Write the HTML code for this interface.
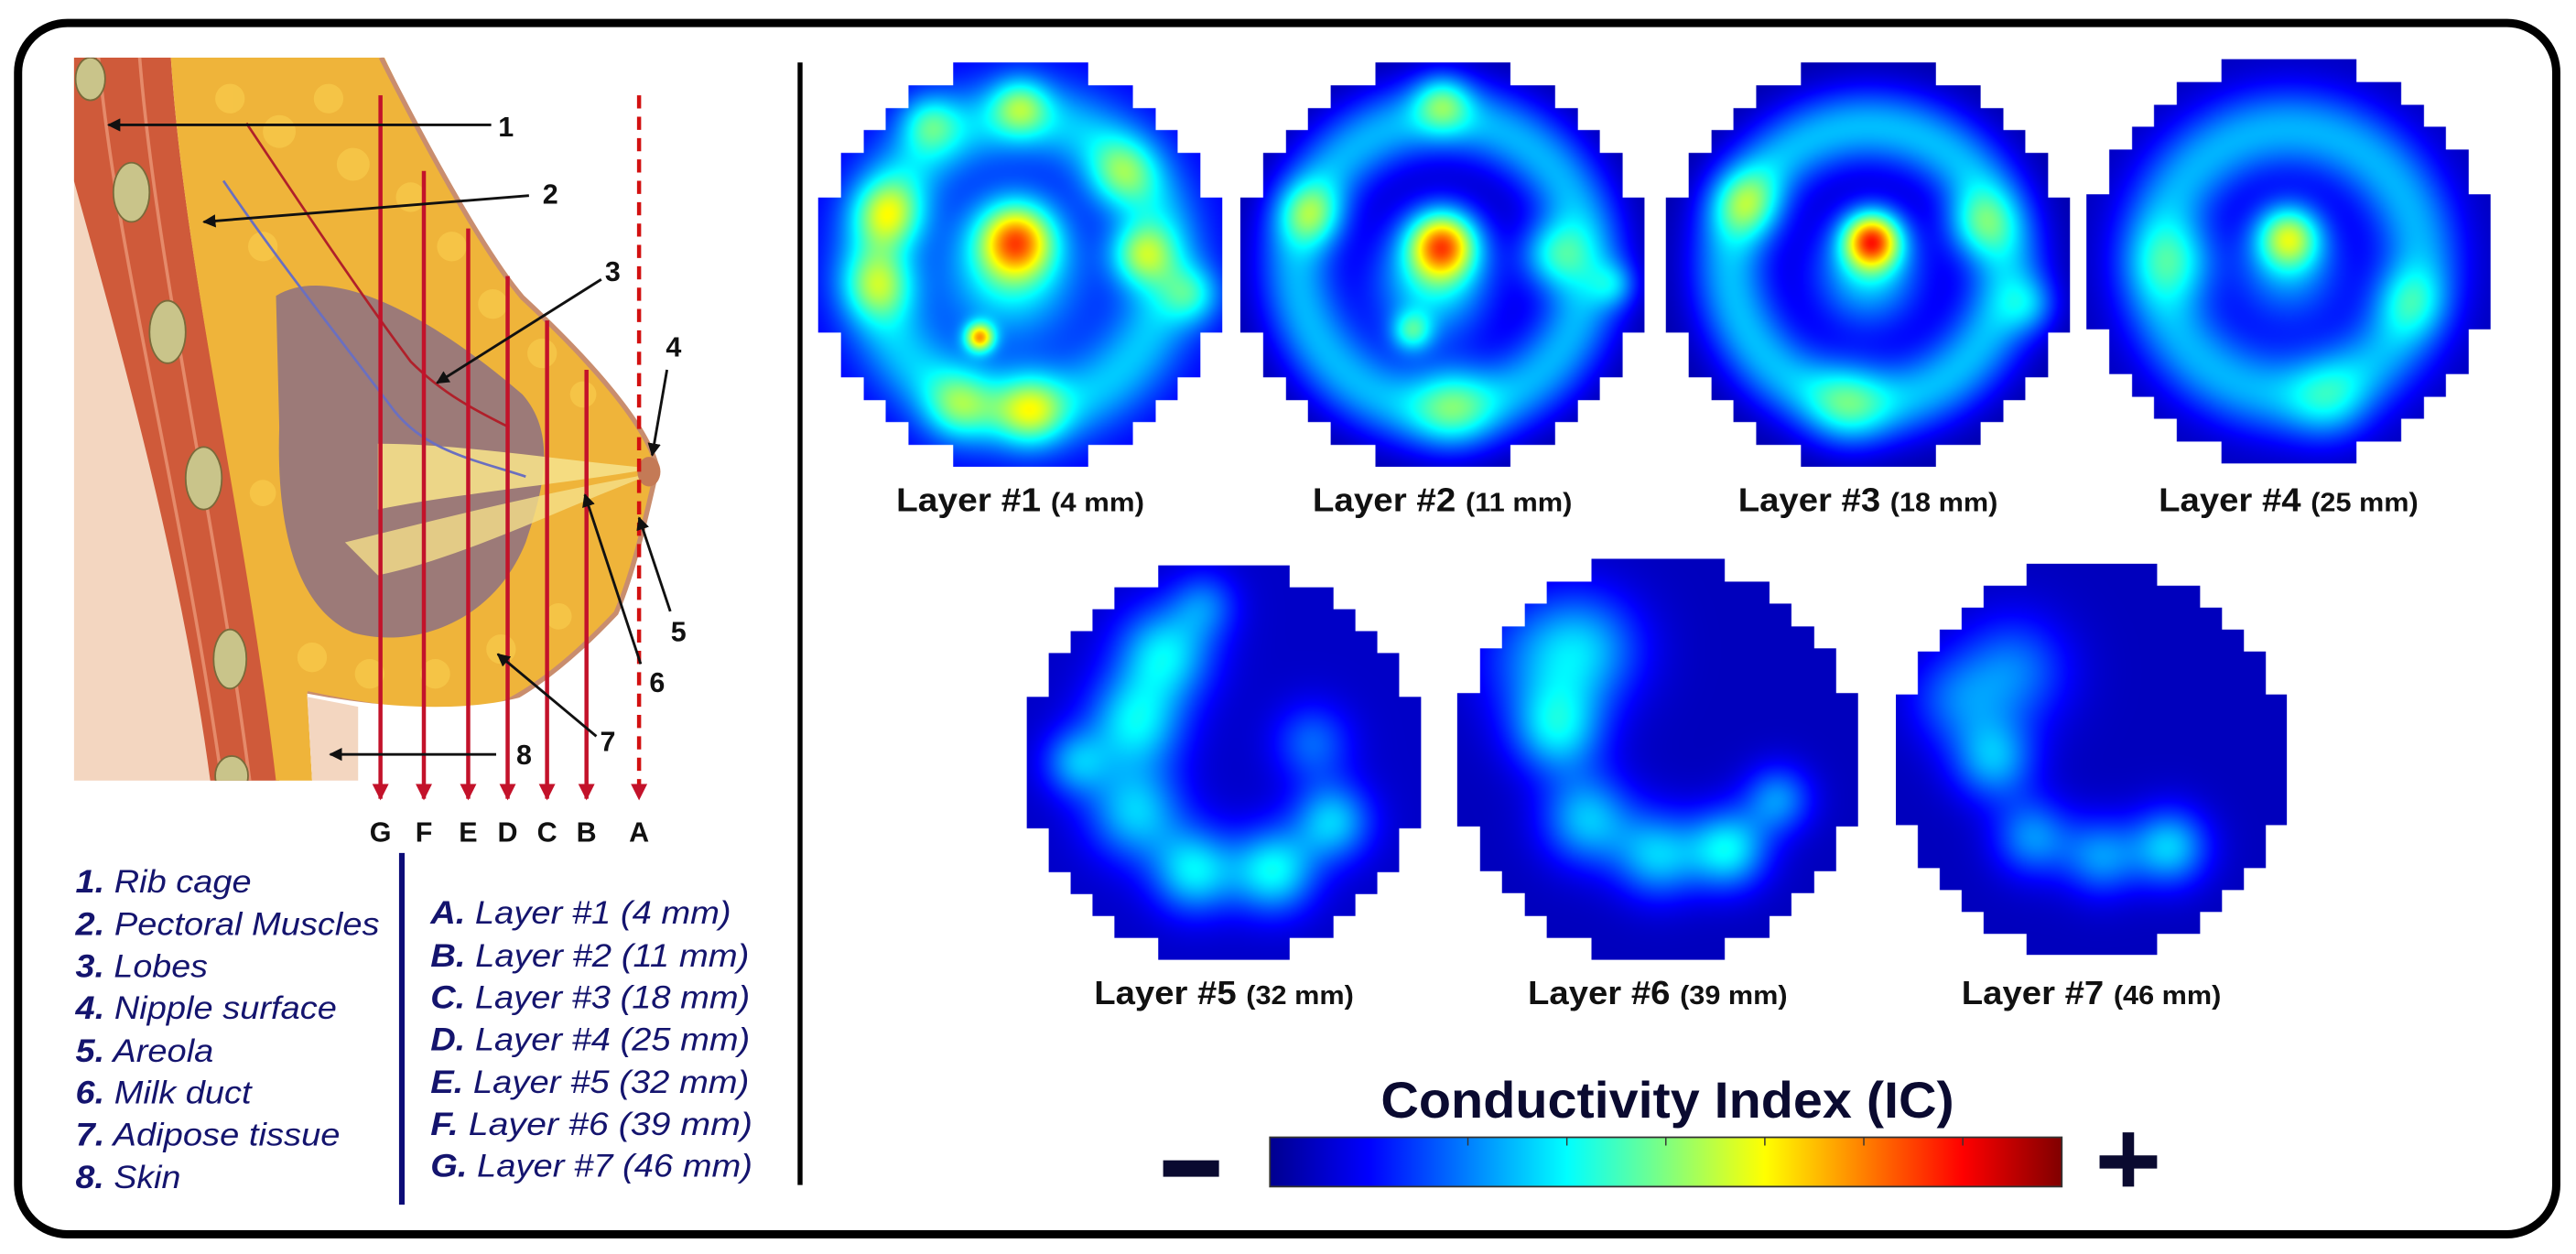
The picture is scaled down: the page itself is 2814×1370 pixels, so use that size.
<!DOCTYPE html>
<html><head><meta charset="utf-8">
<style>
html,body{margin:0;padding:0;background:#fff;}
#root{position:relative;width:1568px;height:763px;transform:scale(1.79464,1.79554);transform-origin:0 0;overflow:hidden;background:#fff;}
#root svg{position:absolute;left:0;top:0;}
canvas.hm{position:absolute;}
</style></head>
<body>
<div id="root">
<svg width="1568" height="763" viewBox="0 0 1568 763" font-family="'Liberation Sans Narrow','Liberation Sans',sans-serif">
  <defs>
    <linearGradient id="jet" x1="0" x2="1" y1="0" y2="0">
      <stop offset="0" stop-color="#00008f"/>
      <stop offset="0.125" stop-color="#0000ff"/>
      <stop offset="0.375" stop-color="#00ffff"/>
      <stop offset="0.625" stop-color="#ffff00"/>
      <stop offset="0.875" stop-color="#ff0000"/>
      <stop offset="1" stop-color="#800000"/>
    </linearGradient>
    <marker id="ah" viewBox="0 0 10 10" refX="9" refY="5" markerWidth="5" markerHeight="5" orient="auto"><path d="M0,0 L10,5 L0,10 z" fill="#111"/></marker>
    <marker id="rh" viewBox="0 0 10 10" refX="9" refY="5" markerWidth="4" markerHeight="4" orient="auto"><path d="M0,0 L10,5 L0,10 z" fill="#c3122a"/></marker>
    <clipPath id="anclip"><rect x="45" y="35" width="425" height="440"/></clipPath>
  </defs>
  <rect x="11" y="14" width="1545" height="737" rx="30" fill="none" stroke="#000" stroke-width="5"/>

  <g clip-path="url(#anclip)">
    <rect x="45" y="35" width="425" height="440" fill="#fff"/>
    <path d="M45,35 L104,35 C110,150 140,300 167,475 L45,475 Z" fill="#f3d6c0"/>
    <path d="M45,35 L104,35 C112,160 150,320 170,475 L128,475 C110,340 70,200 45,110 Z" fill="#cf5a3a"/>
    <path d="M60,35 C70,150 110,300 135,475" stroke="#e58a6a" stroke-width="2" fill="none"/>
    <path d="M85,35 C95,160 132,320 152,475" stroke="#e58a6a" stroke-width="2" fill="none"/>
    <path d="M104,35 L234,35 C270,110 300,160 318,181 C360,220 395,260 400,285 C392,320 385,350 375,373 C340,410 310,430 289,434 C250,434 215,428 187,422 L190,475 L168,475 C150,320 112,160 104,35 Z" fill="#efb43a"/>
    <g fill="#f7c84a" opacity="0.8">
      <circle cx="140" cy="60" r="9"/><circle cx="170" cy="80" r="10"/><circle cx="200" cy="60" r="9"/><circle cx="215" cy="100" r="10"/>
      <circle cx="250" cy="120" r="9"/><circle cx="275" cy="150" r="9"/><circle cx="300" cy="185" r="9"/><circle cx="330" cy="215" r="9"/>
      <circle cx="355" cy="240" r="8"/><circle cx="190" cy="400" r="9"/><circle cx="225" cy="410" r="9"/><circle cx="265" cy="410" r="9"/>
      <circle cx="305" cy="395" r="9"/><circle cx="340" cy="375" r="8"/><circle cx="160" cy="150" r="9"/><circle cx="160" cy="300" r="8"/>
    </g>
    <path d="M232,35 C270,110 300,160 318,181 C360,220 395,260 400,285 C392,320 385,350 375,373 C340,410 310,430 289,434 C250,434 215,428 187,422" fill="none" stroke="#c98d6e" stroke-width="3"/>
    <path d="M187,422 C250,434 300,432 330,420 L330,475 L190,475 Z" fill="#fff"/>
    <path d="M187,424 L218,430 L218,475 L190,475 Z" fill="#f3d6c0"/>
    <path d="M168,180 C200,160 260,190 318,240 C340,265 330,300 320,330 C300,380 250,395 215,385 C180,370 168,320 170,260 Z" fill="#9c7a78"/>
    <path d="M230,270 C280,270 340,280 398,285 C340,295 280,300 230,310 Z" fill="#f5e08a" opacity="0.9"/>
    <path d="M210,330 C270,315 330,300 398,288 C340,310 280,340 230,350 Z" fill="#f5e08a" opacity="0.8"/>
    <path d="M136,110 C170,160 210,210 240,250 C260,275 290,280 320,290" fill="none" stroke="#6a6fc0" stroke-width="1.5"/>
    <path d="M150,75 C180,120 220,180 250,220 C270,240 290,250 310,260" fill="none" stroke="#b0202a" stroke-width="1.5"/>
    <ellipse cx="395" cy="287" rx="7" ry="9" fill="#c47a56"/>
    <g fill="#c9c48a" stroke="#7a6a3a" stroke-width="1">
      <ellipse cx="55" cy="48" rx="9" ry="13"/>
      <ellipse cx="80" cy="117" rx="11" ry="18"/>
      <ellipse cx="102" cy="202" rx="11" ry="19"/>
      <ellipse cx="124" cy="291" rx="11" ry="19"/>
      <ellipse cx="140" cy="401" rx="10" ry="18"/>
      <ellipse cx="141" cy="472" rx="10" ry="12"/>
    </g>
  </g>

  <g stroke="#c3122a" stroke-width="2.5" fill="none">
    <line x1="231.6" y1="58" x2="231.6" y2="486" marker-end="url(#rh)"/>
    <line x1="258" y1="104" x2="258" y2="486" marker-end="url(#rh)"/>
    <line x1="285" y1="139" x2="285" y2="486" marker-end="url(#rh)"/>
    <line x1="309" y1="168" x2="309" y2="486" marker-end="url(#rh)"/>
    <line x1="333" y1="195" x2="333" y2="486" marker-end="url(#rh)"/>
    <line x1="357" y1="225" x2="357" y2="486" marker-end="url(#rh)"/>
    <line x1="389" y1="58" x2="389" y2="486" stroke-dasharray="8,5" stroke="#d21010" marker-end="url(#rh)"/>
  </g>
  <g font-family="'Liberation Sans',sans-serif" font-weight="bold" font-size="17" fill="#111" text-anchor="middle">
    <text x="231.6" y="512">G</text><text x="258" y="512">F</text><text x="285" y="512">E</text><text x="309" y="512">D</text><text x="333" y="512">C</text><text x="357" y="512">B</text><text x="389" y="512">A</text>
  </g>

  <g stroke="#111" stroke-width="1.6" fill="none">
    <line x1="299" y1="76" x2="66" y2="76" marker-end="url(#ah)"/>
    <line x1="322" y1="119" x2="124" y2="135" marker-end="url(#ah)"/>
    <line x1="366" y1="170" x2="266" y2="233" marker-end="url(#ah)"/>
    <line x1="406" y1="225" x2="397" y2="277" marker-end="url(#ah)"/>
    <line x1="408" y1="372" x2="389" y2="315" marker-end="url(#ah)"/>
    <line x1="390" y1="404" x2="356" y2="301" marker-end="url(#ah)"/>
    <line x1="363" y1="448" x2="303" y2="398" marker-end="url(#ah)"/>
    <line x1="302" y1="459" x2="201" y2="459" marker-end="url(#ah)"/>
  </g>
  <g font-family="'Liberation Sans',sans-serif" font-weight="bold" font-size="17" fill="#111" text-anchor="middle">
    <text x="308" y="83">1</text><text x="335" y="124">2</text><text x="373" y="171">3</text><text x="410" y="217">4</text>
    <text x="413" y="390">5</text><text x="400" y="421">6</text><text x="370" y="457">7</text><text x="319" y="465">8</text>
  </g>

  <g font-size="19.5" font-style="italic" fill="#14146e">
    <text x="46" y="543" textLength="107" lengthAdjust="spacingAndGlyphs"><tspan font-weight="bold">1.</tspan> Rib cage</text>
    <text x="46" y="569" textLength="185" lengthAdjust="spacingAndGlyphs"><tspan font-weight="bold">2.</tspan> Pectoral Muscles</text>
    <text x="46" y="594.5" textLength="80.5" lengthAdjust="spacingAndGlyphs"><tspan font-weight="bold">3.</tspan> Lobes</text>
    <text x="46" y="620" textLength="159" lengthAdjust="spacingAndGlyphs"><tspan font-weight="bold">4.</tspan> Nipple surface</text>
    <text x="46" y="646" textLength="84" lengthAdjust="spacingAndGlyphs"><tspan font-weight="bold">5.</tspan> Areola</text>
    <text x="46" y="671.5" textLength="107" lengthAdjust="spacingAndGlyphs"><tspan font-weight="bold">6.</tspan> Milk duct</text>
    <text x="46" y="697" textLength="161" lengthAdjust="spacingAndGlyphs"><tspan font-weight="bold">7.</tspan> Adipose tissue</text>
    <text x="46" y="723" textLength="64" lengthAdjust="spacingAndGlyphs"><tspan font-weight="bold">8.</tspan> Skin</text>
  </g>
  <line x1="244.6" y1="519" x2="244.6" y2="733" stroke="#0c0c78" stroke-width="3.4"/>
  <g font-size="19.5" font-style="italic" fill="#14146e">
    <text x="262" y="562" textLength="183" lengthAdjust="spacingAndGlyphs"><tspan font-weight="bold">A.</tspan> Layer #1 (4 mm)</text>
    <text x="262" y="588" textLength="194" lengthAdjust="spacingAndGlyphs"><tspan font-weight="bold">B.</tspan> Layer #2 (11 mm)</text>
    <text x="262" y="613.5" textLength="194.5" lengthAdjust="spacingAndGlyphs"><tspan font-weight="bold">C.</tspan> Layer #3 (18 mm)</text>
    <text x="262" y="639" textLength="194.5" lengthAdjust="spacingAndGlyphs"><tspan font-weight="bold">D.</tspan> Layer #4 (25 mm)</text>
    <text x="262" y="665" textLength="194" lengthAdjust="spacingAndGlyphs"><tspan font-weight="bold">E.</tspan> Layer #5 (32 mm)</text>
    <text x="262" y="690.5" textLength="196" lengthAdjust="spacingAndGlyphs"><tspan font-weight="bold">F.</tspan>  Layer #6 (39 mm)</text>
    <text x="262" y="716" textLength="196" lengthAdjust="spacingAndGlyphs"><tspan font-weight="bold">G.</tspan> Layer #7 (46 mm)</text>
  </g>

  <line x1="487" y1="38" x2="487" y2="721" stroke="#000" stroke-width="3"/>

  <g id="hmLabels" font-weight="bold" fill="#111" text-anchor="middle"></g>

  <text x="1015" y="680" font-size="31" font-weight="bold" fill="#0a0a30" text-anchor="middle" textLength="349" lengthAdjust="spacingAndGlyphs">Conductivity Index (IC)</text>
  <rect x="773" y="692" width="482" height="30" fill="url(#jet)" stroke="#333" stroke-width="1"/>
  <g id="cbTicks" stroke="#333" stroke-width="0.8"></g>
  <rect x="708" y="706" width="34" height="10" fill="#0a0a30"/>
  <rect x="1278" y="703" width="35" height="8" fill="#0a0a30"/>
  <rect x="1292" y="689" width="7" height="33" fill="#0a0a30"/>
</svg>
</div>
<script>
const layerNames = ["Layer #1", "Layer #2", "Layer #3", "Layer #4", "Layer #5", "Layer #6", "Layer #7"];
const layerDepths = ["(4 mm)", "(11 mm)", "(18 mm)", "(25 mm)", "(32 mm)", "(39 mm)", "(46 mm)"];
const layerBase = [0.12, 0.04, 0.04, 0.06, 0.07, 0.06, 0.06];
const layerRing = [[0.72, 0.14, 0.2], [0.72, 0.14, 0.26], [0.68, 0.14, 0.27], [0.65, 0.15, 0.24], [0, 0.1, 0], [0, 0.1, 0], [0, 0.1, 0]];
const layerBlobs = [
  [[-0.02,-0.12,0.13,0.5],[-0.05,0.05,0.24,0.25],[-0.2,0.36,0.05,0.5],[-0.65,-0.25,0.12,0.3],[-0.7,0.1,0.12,0.25],[0.6,-0.05,0.11,0.3],[0.5,-0.45,0.12,0.22],[0.05,0.72,0.12,0.3],[-0.3,0.7,0.12,0.22],[0.0,-0.78,0.1,0.25],[-0.45,-0.7,0.1,0.2],[0.85,0.15,0.1,0.2]],
  [[0,-0.1,0.12,0.58],[-0.05,0.1,0.22,0.3],[-0.15,0.33,0.07,0.25],[-0.65,-0.25,0.11,0.25],[0.55,-0.05,0.12,0.25],[0.05,0.7,0.14,0.2],[0.0,-0.8,0.1,0.25],[0.85,0.1,0.08,0.15]],
  [[0.02,-0.12,0.1,0.62],[0,0.05,0.2,0.28],[-0.6,-0.3,0.12,0.25],[0.55,-0.2,0.12,0.22],[-0.1,0.7,0.14,0.18],[0.8,0.2,0.1,0.15]],
  [[0.0,-0.12,0.11,0.4],[0,0.05,0.2,0.2],[-0.55,0.0,0.14,0.18],[0.2,0.7,0.14,0.14],[0.6,0.2,0.12,0.14]],
  [[-0.3,-0.55,0.17,0.28],[-0.45,-0.2,0.17,0.28],[-0.45,0.25,0.17,0.25],[-0.15,0.55,0.15,0.28],[0.25,0.55,0.15,0.3],[0.55,0.3,0.14,0.25],[-0.75,0.0,0.12,0.2],[0.45,-0.1,0.14,0.15],[-0.1,-0.8,0.12,0.15]],
  [[-0.35,-0.55,0.2,0.2],[-0.5,-0.15,0.16,0.27],[-0.35,0.3,0.16,0.25],[0.0,0.48,0.15,0.25],[0.35,0.45,0.14,0.3],[0.6,0.2,0.12,0.2],[-0.6,-0.5,0.22,0.14]],
  [[-0.4,-0.45,0.2,0.18],[-0.5,0.0,0.15,0.23],[-0.3,0.4,0.14,0.2],[0.05,0.5,0.14,0.2],[0.4,0.45,0.14,0.26],[-0.7,-0.3,0.17,0.14]]
];
const colorbarTicks = [0.25, 0.375, 0.5, 0.625, 0.75, 0.875];

const hmCenters = [[621,161],[878,161],[1137,161],[1393,159],[745,464],[1009,462],[1273,462]];
const hmRadius = [123,123,123,123,120,122,119];
const labelY = [311,311,311,311,611,611,611];
const GRID = 18;

function jet(v){
  const c = x => Math.max(0, Math.min(1, x));
  return [c(1.5-Math.abs(4*v-3))*255, c(1.5-Math.abs(4*v-2))*255, c(1.5-Math.abs(4*v-1))*255];
}
function valueAt(k, x, y){
  let v = layerBase[k];
  const r = Math.hypot(x, y);
  const ring = layerRing[k];
  v += ring[2]*Math.exp(-((r-ring[0])**2)/(2*ring[1]*ring[1]));
  for (const b of layerBlobs[k]) {
    const d2 = (x-b[0])**2 + (y-b[1])**2;
    v += b[3]*Math.exp(-d2/(2*b[2]*b[2]));
  }
  return Math.max(0, Math.min(1, v));
}
const root = document.getElementById('root');
const S = 1.8;
for (let k = 0; k < layerBlobs.length; k++) {
  const [cx, cy] = hmCenters[k], R = hmRadius[k];
  const cv = document.createElement('canvas');
  
  
  cv.className = 'hm';
  const N = Math.round(2*R*S);
  cv.width = N; cv.height = N;
  cv.style.left = (cx-R)+'px'; cv.style.top = (cy-R)+'px';
  cv.style.width = (2*R)+'px'; cv.style.height = (2*R)+'px';
  const ctx = cv.getContext('2d');
  const img = ctx.createImageData(N, N);
  for (let py = 0; py < N; py++) {
    const gy = Math.min(GRID-1, Math.floor(py/N*GRID));
    const ny = ((gy+0.5)/GRID)*2-1;
    const y = (py+0.5)/N*2-1;
    for (let px = 0; px < N; px++) {
      const gx = Math.min(GRID-1, Math.floor(px/N*GRID));
      const nx = ((gx+0.5)/GRID)*2-1;
      const i = (py*N+px)*4;
      if (nx*nx+ny*ny > 1.0) { img.data[i+3] = 0; continue; }
      const x = (px+0.5)/N*2-1;
      const col = jet(valueAt(k, x, y));
      img.data[i] = col[0]; img.data[i+1] = col[1]; img.data[i+2] = col[2]; img.data[i+3] = 255;
    }
  }
  ctx.putImageData(img, 0, 0);
  root.appendChild(cv);

  const NS = 'http://www.w3.org/2000/svg';
  const t = document.createElementNS(NS, 'text');
  
  
  t.setAttribute('x', cx);
  t.setAttribute('y', labelY[k]);
  t.setAttribute('font-size', '20');
  t.setAttribute('textLength', layerDepths[k].length > 6 ? 158 : 151);
  t.setAttribute('lengthAdjust', 'spacingAndGlyphs');
  const s1 = document.createElementNS(NS, 'tspan'); s1.textContent = layerNames[k] + ' ';
  const s2 = document.createElementNS(NS, 'tspan'); s2.setAttribute('font-size', '16'); s2.textContent = layerDepths[k];
  t.appendChild(s1); t.appendChild(s2);
  document.getElementById('hmLabels').appendChild(t);
}
const tg = document.getElementById('cbTicks');
for (const tv of colorbarTicks) {
  const l = document.createElementNS('http://www.w3.org/2000/svg', 'line');
  
  
  const x = 773 + tv*482;
  l.setAttribute('x1', x); l.setAttribute('x2', x);
  l.setAttribute('y1', 692); l.setAttribute('y2', 697);
  tg.appendChild(l);
}
</script>
</body></html>
